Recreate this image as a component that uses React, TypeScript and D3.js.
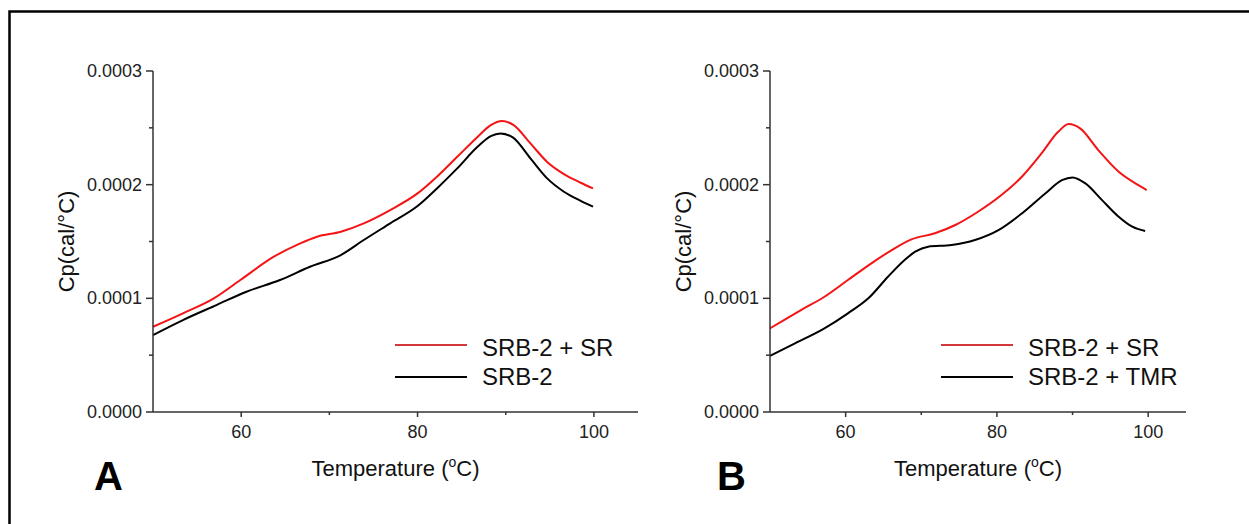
import React from "react";
import * as d3 from "d3";

// ---------- data (Cp in cal/°C, temperature in °C) ----------
const tempA_SR = [50, 53.4, 56.9, 59.9, 63.7, 66.7, 68.6, 71.3, 73.9, 76.9, 80.0, 82.2, 84.5, 86.8, 88.3, 89.6, 90.9, 92.8, 94.7, 96.6, 98.5, 99.9];
const cpA_SR = [0.0000750, 0.0000868, 0.0001000, 0.0001161, 0.0001366, 0.0001484, 0.0001542, 0.0001586, 0.0001660, 0.0001777, 0.0001923, 0.0002070, 0.0002245, 0.0002420, 0.0002524, 0.0002560, 0.0002524, 0.0002363, 0.0002200, 0.0002093, 0.0002017, 0.0001967];

const tempA_SRB2 = [50, 53.4, 57.2, 60.6, 64.4, 67.8, 71.3, 73.9, 76.9, 80.0, 82.2, 84.5, 86.8, 88.3, 89.4, 90.8, 92.8, 94.7, 96.6, 98.5, 99.9];
const cpA_SRB2 = [0.0000677, 0.0000809, 0.0000941, 0.0001058, 0.0001161, 0.0001278, 0.0001381, 0.0001513, 0.0001660, 0.0001812, 0.0001967, 0.0002143, 0.0002333, 0.0002427, 0.0002451, 0.0002416, 0.0002231, 0.0002055, 0.0001938, 0.0001858, 0.0001806];

const tempB_SR = [50, 54.1, 57.2, 60.3, 63.4, 66.1, 68.7, 71.8, 74.5, 77.5, 80.6, 83.3, 85.9, 88.1, 89.5, 91.0, 93.4, 96.1, 98.3, 99.8];
const cpB_SR = [0.0000736, 0.0000897, 0.0001014, 0.0001161, 0.0001308, 0.0001425, 0.0001519, 0.0001572, 0.0001645, 0.0001762, 0.0001909, 0.0002070, 0.0002275, 0.0002465, 0.0002533, 0.0002495, 0.0002304, 0.0002113, 0.0002011, 0.0001953];

const tempB_TMR = [50, 53.3, 57.2, 60.3, 63.0, 65.6, 67.8, 69.2, 70.9, 74.0, 77.1, 80.2, 83.3, 86.4, 88.6, 90.0, 91.7, 93.9, 96.1, 97.9, 99.6];
const cpB_TMR = [0.0000493, 0.0000604, 0.0000736, 0.0000868, 0.0001000, 0.0001190, 0.0001337, 0.0001410, 0.0001454, 0.0001469, 0.0001513, 0.0001600, 0.0001747, 0.0001923, 0.0002040, 0.0002064, 0.0002011, 0.0001864, 0.0001718, 0.0001630, 0.0001592];

const xDomain = [50, 105];
const yDomain = [0, 0.0003];
const xMajorTicks = [60, 80, 100];
const xMinorTicks = [70, 90];
const yMajorTicks = [0, 0.0001, 0.0002, 0.0003];
const yMinorTicks = [0.00005, 0.00015, 0.00025];

const legendA = ["SRB-2 + SR", "SRB-2"];
const legendB = ["SRB-2 + SR", "SRB-2 + TMR"];

const FONT = "'Liberation Sans', Arial, Helvetica, sans-serif";
const RED = "#f41414";
const RED_LEGEND = "#d23a3a";
const BLACK = "#000000";
const AXIS = "#333333";

type Series = { t: number[]; v: number[]; color: string };

function Panel(props: {
  left: number;
  right: number;
  top: number;
  bottom: number;
  series: Series[];
  legend: string[];
  legendX: number;
  letter: string;
  letterX: number;
}) {
  const { left, right, top, bottom, series, legend, legendX, letter, letterX } = props;
  const x = d3.scaleLinear().domain(xDomain).range([left, right]);
  const y = d3.scaleLinear().domain(yDomain).range([bottom, top]);
  const fmt = d3.format(".4f");
  const line = d3
    .line<[number, number]>()
    .x((d) => x(d[0]))
    .y((d) => y(d[1]))
    .curve(d3.curveMonotoneX);

  const legendColors = [RED_LEGEND, BLACK];
  const legendLineY = [345, 377];
  const legendTextY = [356, 385];

  return (
    <g>
      {series.map((s, i) => (
        <path
          key={i}
          d={line(s.t.map((t, j) => [t, s.v[j]] as [number, number])) || ""}
          fill="none"
          stroke={s.color}
          strokeWidth={2}
        />
      ))}
      {/* axes */}
      <line x1={left} x2={right} y1={bottom} y2={bottom} stroke={AXIS} strokeWidth={1.5} />
      <line x1={left} x2={left} y1={top} y2={bottom} stroke={AXIS} strokeWidth={1.5} />
      {xMajorTicks.map((t) => (
        <g key={"xM" + t}>
          <line x1={x(t)} x2={x(t)} y1={bottom} y2={bottom + 5} stroke={AXIS} strokeWidth={1.5} />
          <text x={x(t)} y={bottom + 26} textAnchor="middle" fontFamily={FONT} fontSize={18} fill="#222">
            {t}
          </text>
        </g>
      ))}
      {xMinorTicks.map((t) => (
        <line key={"xm" + t} x1={x(t)} x2={x(t)} y1={bottom} y2={bottom + 3} stroke={AXIS} strokeWidth={1.5} />
      ))}
      {yMajorTicks.map((t) => (
        <g key={"yM" + t}>
          <line x1={left - 7} x2={left} y1={y(t)} y2={y(t)} stroke={AXIS} strokeWidth={1.5} />
          <text x={left - 11} y={y(t) + 6} textAnchor="end" fontFamily={FONT} fontSize={18} fill="#222">
            {fmt(t)}
          </text>
        </g>
      ))}
      {yMinorTicks.map((t) => (
        <line key={"ym" + t} x1={left - 4} x2={left} y1={y(t)} y2={y(t)} stroke={AXIS} strokeWidth={1.5} />
      ))}
      {/* axis titles */}
      <text
        x={(left + right) / 2}
        y={bottom + 64}
        textAnchor="middle"
        fontFamily={FONT}
        fontSize={22}
        fill="#111"
      >
        Temperature (
        <tspan fontSize={14} dy={-9}>o</tspan>
        <tspan dy={9}>C)</tspan>
      </text>
      <text
        transform={`translate(${left - 79},${(top + bottom) / 2}) rotate(-90)`}
        textAnchor="middle"
        fontFamily={FONT}
        fontSize={22}
        fill="#111"
      >
        Cp(cal/°C)
      </text>
      {/* legend */}
      {legend.map((label, i) => (
        <g key={label}>
          <line
            x1={legendX}
            x2={legendX + 72}
            y1={legendLineY[i]}
            y2={legendLineY[i]}
            stroke={legendColors[i]}
            strokeWidth={2}
          />
          <text x={legendX + 87} y={legendTextY[i]} fontFamily={FONT} fontSize={24} fill="#111">
            {label}
          </text>
        </g>
      ))}
      <text x={letterX} y={490} fontFamily={FONT} fontSize={40} fontWeight="bold" fill="#000">
        {letter}
      </text>
    </g>
  );
}

export default function App() {
  return (
    <svg
      width={1249}
      height={524}
      style={{ position: "absolute", left: 0, top: 0, background: "#fff" }}
    >
      <rect x={0} y={0} width={1249} height={524} fill="#fff" />
      <rect x={9.5} y={11.5} width={1260} height={540} fill="none" stroke="#000" strokeWidth={2.5} />
      <Panel
        left={153}
        right={638}
        top={71}
        bottom={412}
        series={[
          { t: tempA_SR, v: cpA_SR, color: RED },
          { t: tempA_SRB2, v: cpA_SRB2, color: BLACK },
        ]}
        legend={legendA}
        legendX={395}
        letter="A"
        letterX={94}
      />
      <Panel
        left={770}
        right={1186}
        top={71}
        bottom={412}
        series={[
          { t: tempB_SR, v: cpB_SR, color: RED },
          { t: tempB_TMR, v: cpB_TMR, color: BLACK },
        ]}
        legend={legendB}
        legendX={941}
        letter="B"
        letterX={717}
      />
    </svg>
  );
}
